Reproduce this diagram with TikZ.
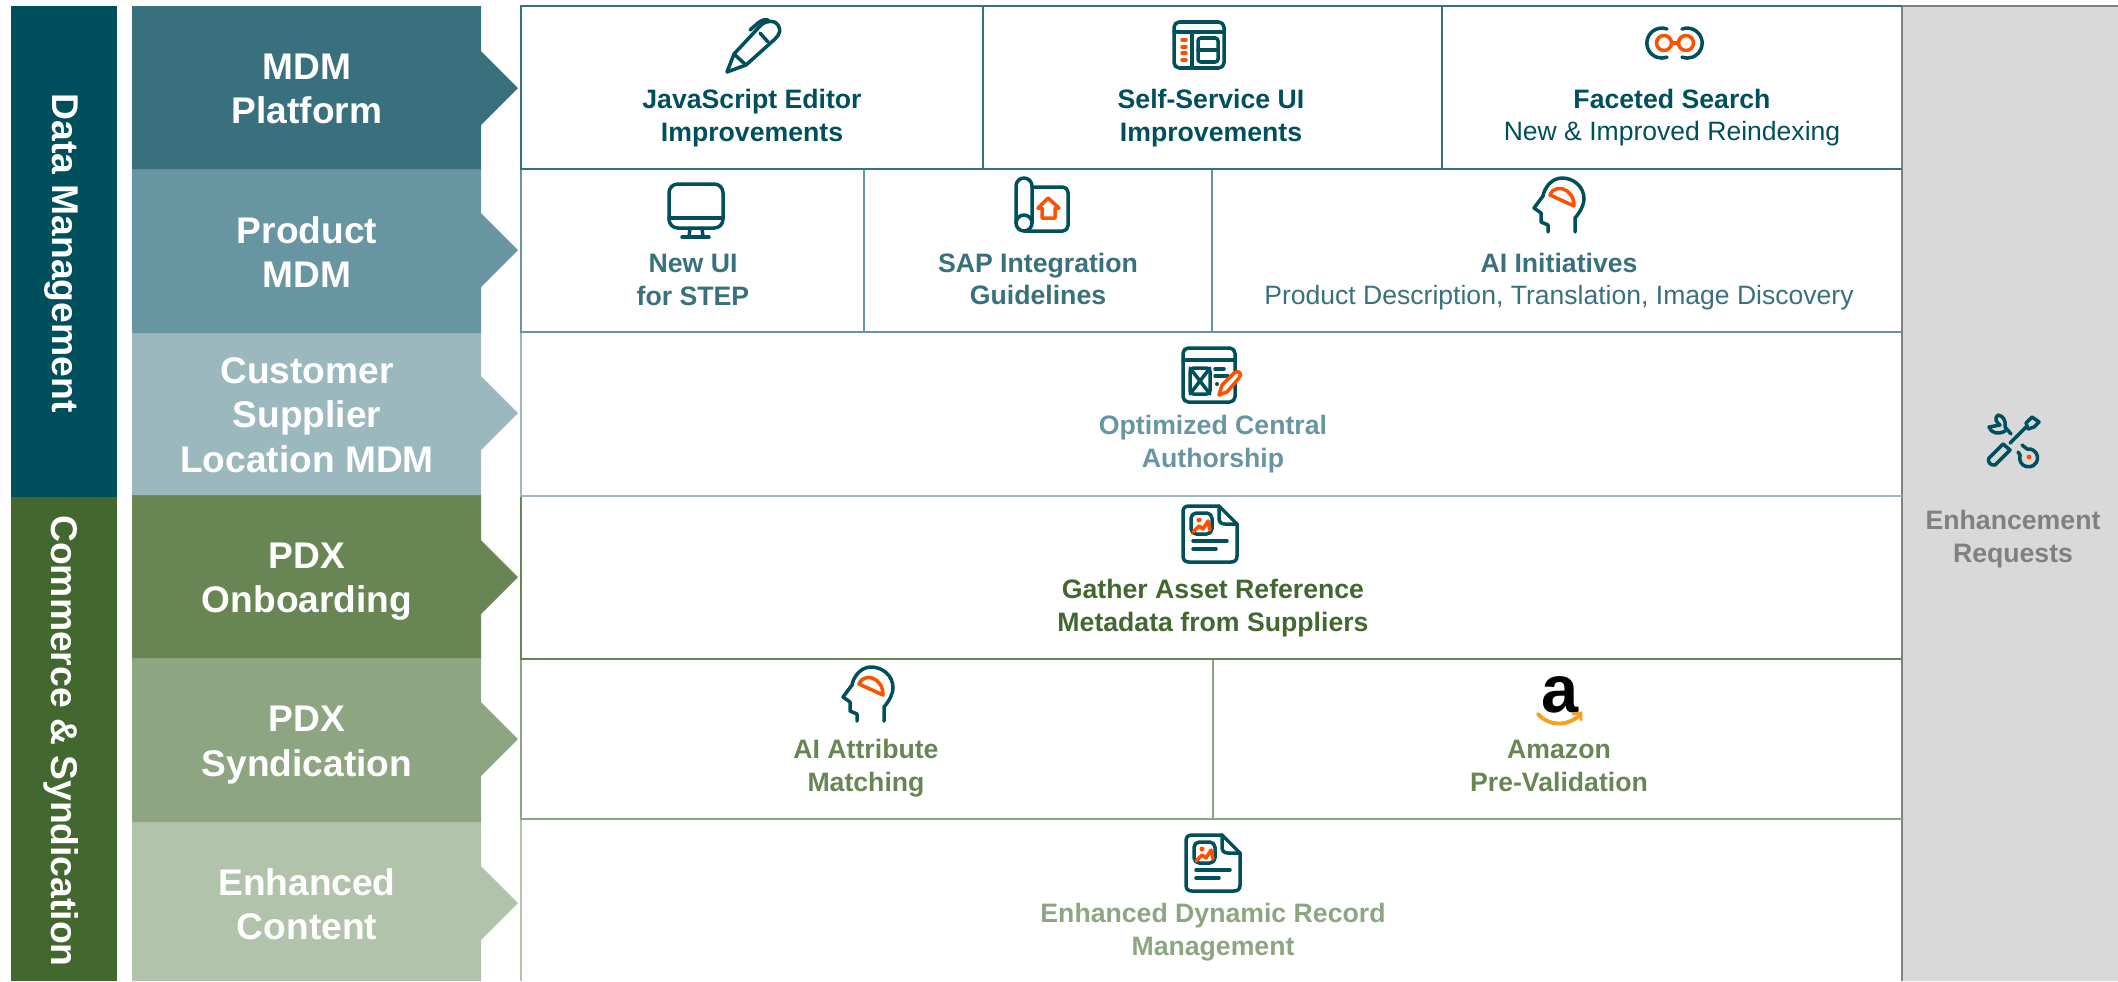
\documentclass[tikz,border=0pt]{standalone}
\usepackage{fontspec}
\setmainfont{Liberation Sans}

\definecolor{tealbar}{HTML}{004F5D}
\definecolor{tealone}{HTML}{38707D}
\definecolor{tealtwo}{HTML}{6795A1}
\definecolor{tealthree}{HTML}{9AB8BE}
\definecolor{greenbar}{HTML}{42672F}
\definecolor{greenone}{HTML}{678654}
\definecolor{greentwo}{HTML}{8DA581}
\definecolor{greenthree}{HTML}{B2C3AB}
\definecolor{panelgray}{HTML}{D9D9D9}
\definecolor{panelline}{HTML}{808080}
\definecolor{accent}{HTML}{FF5000}
\definecolor{smile}{HTML}{F7A01E}

\tikzset{
    icon/.style={draw=tealbar, line width=1pt, line join=round, line cap=round},
    hot/.style={draw=accent, line width=1pt, line join=round, line cap=round},
    barlabel/.style={rotate=-90, text=white, inner sep=0pt, font=\fontsize{10.6}{12}\selectfont\bfseries},
    rowlabel/.style={align=center, text=white, inner sep=0pt, font=\fontsize{10.55}{12.6}\selectfont\bfseries},
    celltext/.style={align=center, inner sep=0pt, font=\fontsize{7.58}{9.2}\selectfont\bfseries},
    thintext/.style={align=center, inner sep=0pt, font=\fontsize{7.55}{9.2}\selectfont},
    cellline/.style={line width=0.8pt},
    pics/headicon/.style={code={
        \draw[icon] (16,27) -- (16,13) .. controls (22,6) and (25,-1) .. (25,-6)
            .. controls (25,-19) and (14,-27) .. (3,-27)
            .. controls (-8,-27) and (-15,-16) .. (-16,-9)
            -- (-25,3) -- (-18,8) -- (-18,17) -- (-11,20) -- (-11,27);
        \draw[hot] (-9,-10) .. controls (-6,-18) and (3,-18) .. (8,-14)
            .. controls (13,-10) and (15,-6) .. (15,1) -- cycle;
    }},
    pics/docicon/.style={code={
        \draw[icon] (9,-28) -- (-21,-28) .. controls (-25,-28) and (-27,-26) .. (-27,-22)
            -- (-27,22) .. controls (-27,26) and (-25,28) .. (-21,28)
            -- (21,28) .. controls (25,28) and (27,26) .. (27,22) -- (27,-10) -- cycle;
        \draw[icon] (9,-28) -- (9,-16) .. controls (9,-12) and (11,-10) .. (15,-10) -- (27,-10);
        \draw[icon, rounded corners=1.5pt] (-19,-21) rectangle (2,0);
        \fill[accent] (-11,-14) circle (2.5);
        \draw[hot] (-17,-2) -- (-11,-8) -- (-7,-5) -- (-2,-13) -- (0,-4);
        \draw[icon] (-17,7) -- (17,7);
        \draw[icon] (-17,15) -- (6,15);
    }}
}

\begin{document}
\begin{tikzpicture}[x=0.01cm, y=-0.01cm]
    \useasboundingbox (0,0) rectangle (2118,981);

    % --- Side bars ---
    \fill[tealbar] (11,6) rectangle (117,497);
    \fill[greenbar] (11,497) rectangle (117,981);
    \node[barlabel] (datalabel) at (61,253) {Data Management};
    \node[barlabel] (commercelabel) at (61,741) {Commerce \& Syndication};

    % --- Row arrows, pale ones first ---
    \foreach \ytop/\ybot/\ymid/\col in {
        822/981/903/greenthree, 658/822/739/greentwo, 495/658/577/greenone,
        333/495/413/tealthree, 169/333/250/tealtwo, 6/169/88/tealone}{
        \fill[\col] (132,\ytop) -- (481,\ytop) -- (481,{\ymid-37}) -- (518,\ymid)
            -- (481,{\ymid+37}) -- (481,\ybot) -- (132,\ybot) -- cycle;
    }
    \node[rowlabel] (platformlabel) at (307,89) {MDM\\Platform};
    \node[rowlabel] (productlabel) at (307,252) {Product\\MDM};
    \node[rowlabel] (customerlabel) at (307,415) {Customer\\Supplier\\Location MDM};
    \node[rowlabel] (onboardlabel) at (307,582) {PDX\\Onboarding};
    \node[rowlabel] (syndicatelabel) at (307,745) {PDX\\Syndication};
    \node[rowlabel] (enhancedlabel) at (307,904) {Enhanced\\Content};

    % --- Requests panel ---
    \fill[panelgray] (1902,6) rectangle (2118,981);
    \draw[panelline, line width=0.8pt] (2118,6) -- (1902,6) -- (1902,981);

    % --- Grid lines of the cells ---
    \draw[cellline, greenthree] (521,819) -- (521,981);
    \draw[cellline, greentwo] (521,659) -- (521,819) -- (1902,819);
    \draw[cellline, greentwo] (1213,659) -- (1213,819);
    \draw[cellline, greenone] (521,496) -- (521,659) -- (1902,659);
    \draw[cellline, tealthree] (521,332) -- (521,496) -- (1902,496);
    \draw[cellline, tealtwo] (521,169) -- (521,332) -- (1902,332);
    \draw[cellline, tealtwo] (864,169) -- (864,332);
    \draw[cellline, tealtwo] (1212,169) -- (1212,332);
    \draw[cellline, tealone] (1902,169) -- (521,169) -- (521,6) -- (1902,6);
    \draw[cellline, tealone] (983,6) -- (983,169);
    \draw[cellline, tealone] (1442,6) -- (1442,169);

    % --- Cell texts ---
    \node[celltext, text=tealbar] (jseditor) at (752,118) {JavaScript Editor\\Improvements};
    \node[celltext, text=tealbar] (selfservice) at (1211,118) {Self-Service UI\\Improvements};
    \node[celltext, text=tealbar] (faceted) at (1672,99) {Faceted Search};
    \node[thintext, text=tealbar] (reindex) at (1672,134) {New \& Improved Reindexing};
    \node[celltext, text=tealone] (newui) at (693,280) {New UI\\for STEP};
    \node[celltext, text=tealone] (sapguide) at (1038,279) {SAP Integration\\Guidelines};
    \node[celltext, text=tealone] (aiinit) at (1559,263) {AI Initiatives};
    \node[thintext, text=tealone] (aidetail) at (1559,298) {Product Description, Translation, Image Discovery};
    \node[celltext, text=tealtwo] (authorship) at (1213,444) {Optimized Central\\Authorship};
    \node[celltext, text=greenbar] (gather) at (1213,608) {Gather Asset Reference\\Metadata from Suppliers};
    \node[celltext, text=greenone] (aimatch) at (866,768) {AI Attribute\\Matching};
    \node[celltext, text=greenone] (amazontext) at (1559,766) {Amazon\\Pre-Validation};
    \node[celltext, text=greentwo] (dynamic) at (1213,932) {Enhanced Dynamic Record\\Management};
    \node[celltext, text=panelline] (requests) at (2013,539) {Enhancement\\Requests};

    % --- Icons ---
    % pen
    \draw[icon] (727,72) -- (734,54) -- (761,25) .. controls (767,20) and (775,20) .. (778,25)
        .. controls (781,30) and (780,34) .. (775,39) -- (746,65) -- cycle;
    \draw[icon] (734,54) -- (746,65);
    \draw[icon] (760,33) -- (768,42);
    \draw[icon] (750,30) -- (758,23) .. controls (762,20) and (765,19) .. (768,20);

    % panel window
    \draw[icon, rounded corners=1.5pt] (1174,22) rectangle (1224,68);
    \draw[icon] (1174,32) -- (1224,32);
    \draw[icon] (1192,32) -- (1192,68);
    \draw[icon, rounded corners=0.8pt] (1198,38) rectangle (1218,62);
    \draw[icon] (1198,50) -- (1218,50);
    \foreach \ydash in {40,47,53,60}{
        \draw[hot] (1182,\ydash) -- (1186,\ydash);
    }

    % binoculars
    \draw[icon] (1667,29) arc[start angle=-70, end angle=-290, radius=15];
    \draw[icon] (1682,29) arc[start angle=-110, end angle=110, radius=15];
    \draw[hot] (1664,43) circle (7.5);
    \draw[hot] (1686,43) circle (7.5);
    \draw[hot] (1671.5,43) -- (1678.5,43);

    % monitor
    \draw[icon, rounded corners=2.5pt] (669,184) rectangle (723,228);
    \draw[icon] (669,218) -- (723,218);
    \draw[icon] (690,228) -- (689,237);
    \draw[icon] (702,228) -- (703,237);
    \draw[icon] (682,237) -- (709,237);

    % blueprint
    \draw[icon] (1016,223) -- (1016,186) arc[start angle=180, end angle=360, radius=8] -- (1032,223);
    \draw[icon] (1024,223) circle (8);
    \draw[icon, rounded corners=1.5pt] (1032,187) -- (1068,187) -- (1068,231) -- (1024,231);
    \draw[hot] (1048,198) -- (1059,208) -- (1055,208) -- (1055,218) -- (1042,218) -- (1042,208)
        -- (1038,208) -- cycle;

    % heads
    \pic at (1559,205) {headicon};
    \pic at (868,694) {headicon};

    % form and pencil
    \draw[icon, rounded corners=1.5pt] (1183,348) rectangle (1235,402);
    \draw[icon] (1183,360) -- (1235,360);
    \draw[icon, rounded corners=1pt] (1190,368) rectangle (1210,394);
    \draw[icon] (1190,368) -- (1210,394);
    \draw[icon] (1210,368) -- (1190,394);
    \draw[icon] (1215,369) -- (1224,369);
    \draw[icon] (1215,376) -- (1228,376);
    \fill[tealbar] (1217,384) circle (2);
    \draw[hot, fill=white] (1219,395) -- (1222,385) -- (1234,373)
        .. controls (1238,369) and (1243,374) .. (1239,378) -- (1227,392) -- cycle;

    % documents
    \pic at (1210,534) {docicon};
    \pic at (1213,863) {docicon};

    % tools
    \draw[icon] (2003,444) -- (1989,458) .. controls (1987,461) and (1990,466) .. (1995,465)
        -- (2010,450) -- cycle;
    \draw[icon] (2010,443) -- (2026,427);
    \draw[icon] (2026,423) -- (2032,417) -- (2039,422) -- (2034,427) -- (2028,429) -- cycle;
    \draw[icon] (2011,434) -- (2005,427) .. controls (2006,420) and (2003,416) .. (1998,415)
        .. controls (1994,418) and (1996,422) .. (2000,425) -- (1989,427)
        .. controls (1991,433) and (1998,435) .. (2005,431);
    \draw[icon] (2022,445) -- (2027,449);
    \draw[icon] (2027,449) arc[start angle=-100, end angle=200, radius=9];
    \draw[icon] (2018,452) -- (2020,455);
    \fill[accent] (2029,457) circle (2.5);

    % amazon
    \node[inner sep=0pt, text=black, font=\fontsize{19}{19}\selectfont\bfseries] (amazonmark) at (1560,695) {a};
    \draw[smile, line width=1.1pt, line cap=round] (1538,714) .. controls (1548,726) and (1567,727) .. (1580,715);
    \draw[smile, line width=0.8pt, line cap=round] (1573,714) -- (1581,713) -- (1581,720);
\end{tikzpicture}
\end{document}
